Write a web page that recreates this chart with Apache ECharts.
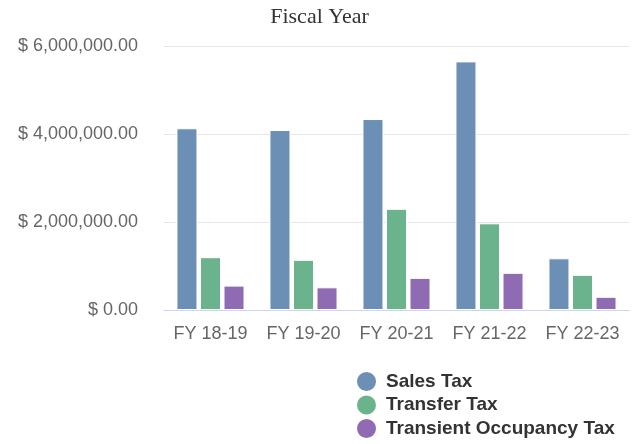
<!DOCTYPE html>
<html>
<head>
<meta charset="utf-8">
<script src="https://cdn.jsdelivr.net/npm/echarts@6/dist/echarts.min.js"></script>
<style>
  html, body { margin: 0; padding: 0; background: #fff; }
  #chart { width: 639px; height: 444px; }
</style>
</head>
<body>
<div id="chart"></div>
<script>
const categories = ["FY 18-19", "FY 19-20", "FY 20-21", "FY 21-22", "FY 22-23"];
const salesTax = [4130000, 4090000, 4340000, 5650000, 1175000];
const transferTax = [1200000, 1140000, 2300000, 1970000, 800000];
const occupancyTax = [555000, 515000, 730000, 845000, 300000];

const money = new Intl.NumberFormat("en-US", { minimumFractionDigits: 2, maximumFractionDigits: 2 });
const fontSans = "'Liberation Sans', Arial, sans-serif";

const barSeries = (name, data, color) => ({
  name,
  type: "bar",
  data,
  barWidth: 21,
  barGap: "12%",
  itemStyle: { color, borderColor: "#ffffff", borderWidth: 1 },
});

const chart = echarts.init(document.getElementById("chart"), null, { renderer: "canvas" });
chart.setOption({
  animation: false,
  title: {
    text: "Fiscal Year",
    left: "center",
    top: 1,
    textStyle: { fontFamily: "'Liberation Serif', 'Times New Roman', serif", fontWeight: "normal", fontSize: 22, color: "#333333" },
  },
  grid: { left: 164, right: 10, top: 46, bottom: 134, containLabel: false },
  legend: {
    orient: "vertical",
    left: 355,
    top: 370,
    height: 74,
    padding: 0,
    icon: "circle",
    itemWidth: 21,
    itemHeight: 21,
    itemGap: 0.5,
    textStyle: { fontFamily: fontSans, fontSize: 19, fontWeight: "bold", color: "#333333", padding: [0, 0, 0, 4] },
  },
  xAxis: {
    type: "category",
    data: categories,
    axisLine: { lineStyle: { color: "#ccd6eb", width: 1 } },
    axisTick: { show: false },
    axisLabel: { color: "#666666", fontFamily: fontSans, fontSize: 18, margin: 15, interval: 0 },
  },
  yAxis: {
    type: "value",
    min: 0,
    max: 6000000,
    interval: 2000000,
    axisLine: { show: false },
    axisTick: { show: false },
    axisLabel: {
      color: "#666666",
      fontFamily: fontSans,
      fontSize: 18,
      margin: 26,
      formatter: (v) => "$ " + money.format(v),
    },
    splitLine: { lineStyle: { color: "#e6e6e6", width: 1 } },
  },
  series: [
    barSeries("Sales Tax", salesTax, "#6b8fb5"),
    barSeries("Transfer Tax", transferTax, "#6bb38c"),
    barSeries("Transient Occupancy Tax", occupancyTax, "#8f6bb3"),
  ],
});
</script>
</body>
</html>
